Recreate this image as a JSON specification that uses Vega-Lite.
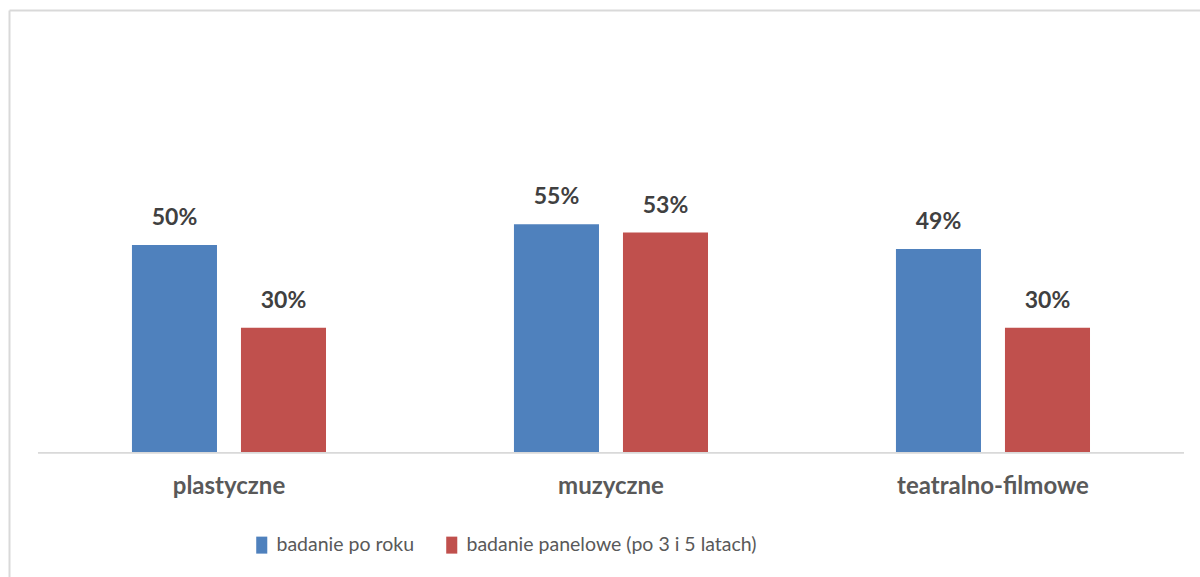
{
  "$schema": "https://vega.github.io/schema/vega-lite/v6.json",
  "autosize": {"type": "none"},
  "padding": {"left": 9, "top": 10, "right": 0, "bottom": 0},
  "width": 1191,
  "height": 567,
  "background": "white",
  "config": {"view": {"stroke": null}},
  "data": {"values": [
    {"cat": "plastyczne", "series": "badanie po roku", "value": 0.50},
    {"cat": "plastyczne", "series": "badanie panelowe (po 3 i 5 latach)", "value": 0.30},
    {"cat": "muzyczne", "series": "badanie po roku", "value": 0.55},
    {"cat": "muzyczne", "series": "badanie panelowe (po 3 i 5 latach)", "value": 0.53},
    {"cat": "teatralno-filmowe", "series": "badanie po roku", "value": 0.49},
    {"cat": "teatralno-filmowe", "series": "badanie panelowe (po 3 i 5 latach)", "value": 0.30}
  ]},
  "encoding": {
    "x": {
      "field": "cat", "type": "nominal", "sort": ["plastyczne", "muzyczne", "teatralno-filmowe"],
      "scale": {"type": "band", "paddingInner": 0, "paddingOuter": 0.0589, "align": 0.644},
      "axis": {"orient": "top", "labels": false, "ticks": false, "title": null, "grid": false, "domain": true, "domainColor": "#d9d9d9", "domainWidth": 2}
    }
  },
  "layer": [
    {
      "data": {"values": [{"cat": "plastyczne"}, {"cat": "muzyczne"}, {"cat": "teatralno-filmowe"}]},
      "mark": {"type": "rect", "color": "#d9d9d9"},
      "encoding": {
        "y": {"datum": 0, "type": "quantitative", "scale": {"domain": [-0.302, 1.0676], "nice": false, "zero": false},
              "axis": {"orient": "left", "labels": false, "ticks": false, "title": null, "grid": false, "domain": true, "domainColor": "#d9d9d9", "domainWidth": 2}},
        "y2": {"datum": -0.004}
      }
    },
    {
      "mark": {"type": "bar"},
      "encoding": {
        "xOffset": {"field": "series", "type": "nominal", "sort": ["badanie po roku", "badanie panelowe (po 3 i 5 latach)"],
                    "scale": {"paddingInner": 0.22, "paddingOuter": 0.862}},
        "y": {"field": "value", "type": "quantitative"},
        "color": {"field": "series", "type": "nominal", "sort": ["badanie po roku", "badanie panelowe (po 3 i 5 latach)"],
          "scale": {"domain": ["badanie po roku", "badanie panelowe (po 3 i 5 latach)"], "range": ["#4F81BD", "#C0504D"]},
          "legend": {
            "orient": "none", "legendX": 243, "legendY": 525, "direction": "horizontal", "title": null,
            "padding": 0, "symbolType": "M-0.65,-1H0.65V1H-0.65Z", "symbolSize": 289, "symbolStrokeWidth": 0,
            "labelFont": "Lato", "labelFontSize": 19.5, "labelColor": "#595959", "labelLimit": 500,
            "labelOffset": 5, "columnPadding": 27
          }
        }
      }
    },
    {
      "mark": {"type": "text", "font": "Lato", "fontWeight": "bold", "fontSize": 23, "color": "#404040", "baseline": "middle", "dy": -27},
      "encoding": {
        "xOffset": {"field": "series", "type": "nominal", "sort": ["badanie po roku", "badanie panelowe (po 3 i 5 latach)"]},
        "y": {"field": "value", "type": "quantitative"},
        "text": {"field": "value", "type": "quantitative", "format": ".0%"}
      }
    },
    {
      "data": {"values": [{"cat": "plastyczne"}, {"cat": "muzyczne"}, {"cat": "teatralno-filmowe"}]},
      "mark": {"type": "text", "font": "Lato", "fontWeight": "bold", "fontSize": 24, "color": "#595959", "baseline": "middle"},
      "encoding": {
        "y": {"datum": -0.085, "type": "quantitative"},
        "text": {"field": "cat", "type": "nominal"}
      }
    }
  ]
}
